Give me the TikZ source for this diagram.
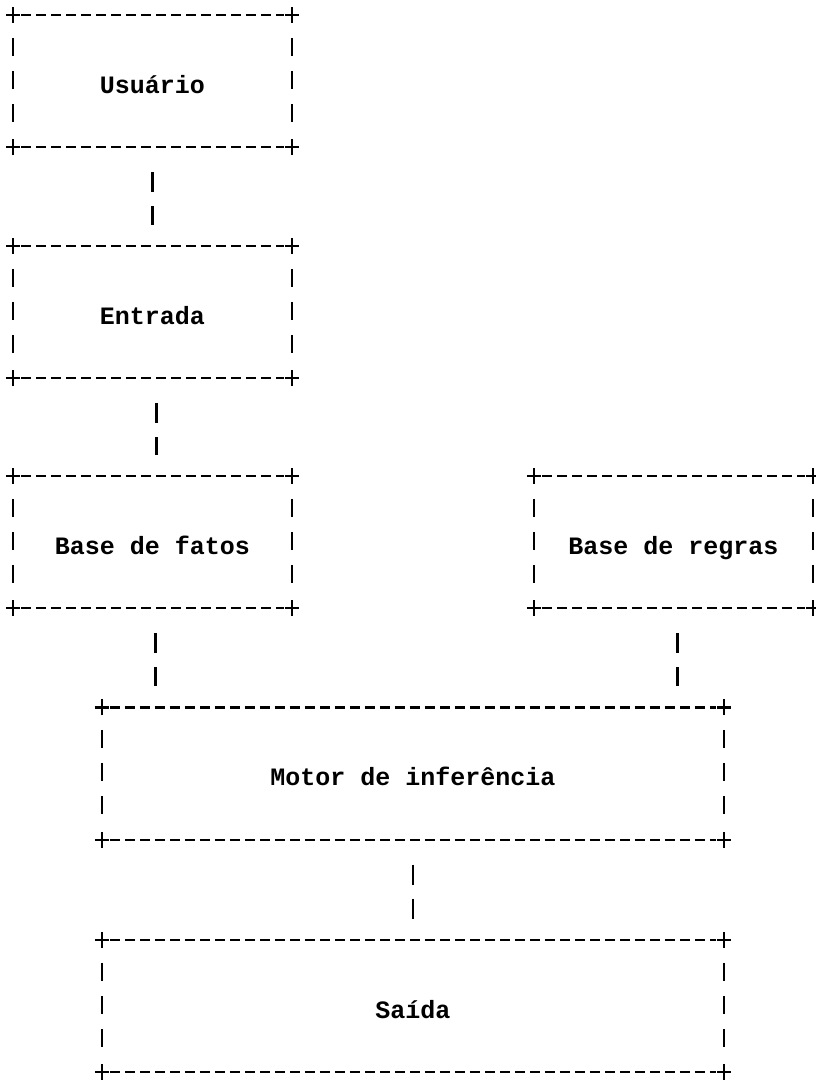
\documentclass[tikz,border=0pt]{standalone}
\usepackage{fontspec}
\newfontfamily\boxfont{Liberation Mono}
\tikzset{
  box/.style={draw=none, minimum width=279pt, minimum height=132pt, inner sep=0pt,
    text height=24pt, text depth=0pt,
    font=\boxfont\bfseries\fontsize{25}{30}\selectfont},
  widebox/.style={box, minimum width=622pt},
  hline/.style={line width=2.4pt, dash pattern=on 10pt off 5pt, shorten <=8pt, shorten >=8pt},
  vline/.style={line width=2.4pt, dash pattern=on 18pt off 15pt, shorten <=23pt, shorten >=22pt},
  crossline/.style={line width=2.4pt},
  link/.style={line width=2.4pt, dash pattern=on 20pt off 14pt, shorten <=25pt, shorten >=21pt},
}
\newcommand\asciibox[1]{%
  \draw[hline] (#1.north west) -- (#1.north east);
  \draw[hline] (#1.south west) -- (#1.south east);
  \draw[vline] (#1.north west) -- (#1.south west);
  \draw[vline] (#1.north east) -- (#1.south east);
  \foreach \c in {north west,north east,south west,south east}{
    \draw[crossline] (#1.\c) ++(-7pt,0) -- ++(14pt,0);
    \draw[crossline] (#1.\c) ++(0,-8pt) -- ++(0,16pt);
  }%
}
\begin{document}
\begin{tikzpicture}[x=1pt,y=-1pt]
  \fill[white] (0,0) rectangle (816,1084);
  \useasboundingbox (0,0) rectangle (816,1084);

  \node[box] (usuario) at (152.5,81) {Usuário};
  \node[box] (entrada) at (152.5,312) {Entrada};
  \node[box] (fatos) at (152.5,542) {Base de fatos};
  \node[box] (regras) at (673.5,542) {Base de regras};
  \node[widebox] (motor) at (413,773.5) {Motor de inferência};
  \node[widebox] (saida) at (413,1006) {Saída};

  \asciibox{usuario}
  \asciibox{entrada}
  \asciibox{fatos}
  \asciibox{regras}
  \asciibox{motor}
  \asciibox{saida}

  \draw[link] (usuario.south) -- (usuario.south |- entrada.north);
  \draw[link] ([xshift=4pt]entrada.south) -- ([xshift=4pt]entrada.south |- fatos.north);
  \draw[link] ([xshift=3pt]fatos.south) -- ([xshift=3pt]fatos.south |- motor.north);
  \draw[link] ([xshift=4pt]regras.south) -- ([xshift=4pt]regras.south |- motor.north);
  \draw[link] (motor.south) -- (saida.north);
\end{tikzpicture}
\end{document}
